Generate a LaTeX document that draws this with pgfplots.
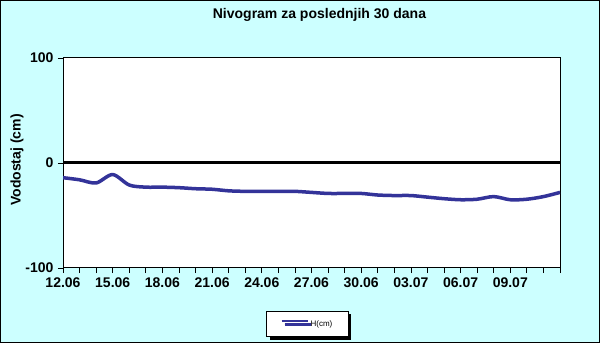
\documentclass[border=0pt]{standalone}
\usepackage{pgfplots}
\pgfplotsset{compat=1.18}
\usepackage{fontspec}
\setmainfont{Liberation Sans}
\usetikzlibrary{shadows}
\definecolor{bgcyan}{RGB}{204,255,255}
\definecolor{serblue}{RGB}{51,51,153}
\begin{document}
\begin{tikzpicture}[x=1pt,y=1pt]
\fill[bgcyan] (0,0) rectangle (600,343);
\draw[black,line width=1pt] (0.5,0.5) rectangle (599.5,342.5);
\begin{axis}[
  at={(63pt,75pt)}, anchor=south west,
  scale only axis, width=497pt, height=210pt,
  xmin=0, xmax=30, ymin=-100, ymax=100,
  axis background/.style={fill=white},
  axis line style={black,line width=1pt},
  xtick={0,1,...,30},
  xticklabels={12.06,,,15.06,,,18.06,,,21.06,,,24.06,,,27.06,,,30.06,,,03.07,,,06.07,,,09.07,,,},
  ytick={-100,0,100},
  xtick pos=bottom, ytick pos=left,
  tick align=outside,
  major tick length=5pt,
  tick style={black,line width=0.8pt},
  ticklabel style={font=\bfseries\fontsize{14}{16}\selectfont},
  /pgf/number format/assume math mode=true,
  xticklabel style={yshift=-1pt},
  yticklabel style={xshift=-1pt},
  title={Nivogram za poslednjih 30 dana},
  title style={at={(axis description cs:0.516,1.176)}, anchor=center, font=\bfseries\fontsize{14}{16}\selectfont},
  ylabel={Vodostaj (cm)},
  ylabel style={at={(axis description cs:-0.0926,0.514)}, anchor=center, font=\bfseries\fontsize{14}{16}\selectfont},
  legend style={at={(axis description cs:0.492,-0.205)}, anchor=north, draw=black, line width=0.8pt, fill=white,
    font=\fontsize{8}{9}\selectfont, inner xsep=14pt, inner ysep=7pt,
    drop shadow={shadow xshift=3pt, shadow yshift=-3pt, fill=black, opacity=1}},
  legend image code/.code={\draw[serblue, line width=2pt] (0pt,2.8pt) -- (26pt,2.8pt);},
]
\addplot[black, line width=3pt, forget plot] coordinates {(0,0) (30,0)};
\addplot[serblue, line width=3.5pt, smooth, tension=0.5] coordinates {
(0,-14) (1,-16) (2,-19) (3,-11) (4,-21) (5,-23) (6,-23) (7,-23.5) (8,-24.5) (9,-25)
(10,-26.5) (11,-27) (12,-27) (13,-27) (14,-27) (15,-28) (16,-29) (17,-29) (18,-29) (19,-30.5)
(20,-31) (21,-31) (22,-32.5) (23,-34) (24,-35) (25,-34.5) (26,-32) (27,-35) (28,-34.5) (29,-32) (30,-28)
};
\addlegendentry{H(cm)}
\end{axis}
\pgfresetboundingbox
\useasboundingbox (0,0) rectangle (600,343);
\end{tikzpicture}
\end{document}
